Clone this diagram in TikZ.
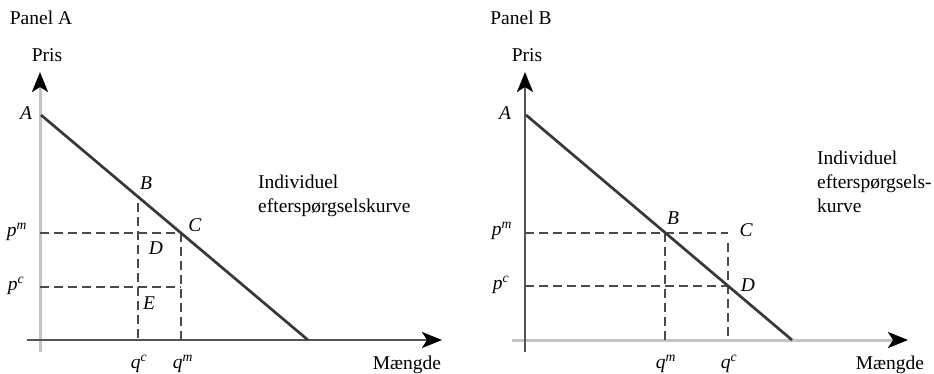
\documentclass[tikz,border=0pt]{standalone}
\usepackage{fontspec}
\setmainfont{Liberation Serif}
\usetikzlibrary{arrows.meta}
\definecolor{axislight}{HTML}{C4C4C4}
\definecolor{axisdark}{HTML}{555555}
\definecolor{curvegray}{HTML}{383838}
\definecolor{guidegray}{HTML}{4A4A4A}

\begin{document}
\begin{tikzpicture}[x=1pt, y=-1pt,
        every node/.style={font=\fontsize{19.5}{24}\selectfont, inner sep=0pt},
        axislo/.style={draw=axislight, line width=3pt,
            -{Stealth[black, length=20pt, width=16pt, inset=5pt]}},
        axishi/.style={draw=axisdark, line width=2.6pt,
            -{Stealth[black, length=20pt, width=16pt, inset=5pt]}},
        demand/.style={draw=curvegray, line width=2.7pt},
        guide/.style={draw=guidegray, line width=2pt, dash pattern=on 9pt off 5pt},
        pt/.style={font=\fontsize{19.5}{24}\selectfont\itshape}]
    \useasboundingbox (0,0) rectangle (934,373);

    % Panel A
    \coordinate (a-ybot) at (40,352);
    \coordinate (a-ytop) at (40,72);
    \coordinate (a-xleft) at (27,340);
    \coordinate (a-xright) at (442,340);
    \coordinate (a-top) at (41,115);
    \coordinate (a-end) at (308,340);
    \coordinate (a-C) at (181,233);
    \coordinate (a-pm) at (40,233);
    \coordinate (a-pc) at (40,287);
    \coordinate (a-Cc) at (181,287);
    \coordinate (a-Btop) at (138,203);
    \coordinate (a-qc) at (138,340);
    \coordinate (a-qm) at (181,340);

    \draw[axislo] (a-ybot) -- (a-ytop);
    \draw[axishi] (a-xleft) -- (a-xright);
    \draw[guide] (a-pm) -- (a-C);
    \draw[guide] (a-pc) -- (a-Cc);
    \draw[guide] (a-Btop) -- (a-qc);
    \draw[guide] (a-C) -- (a-qm);
    \draw[demand] (a-top) -- (a-end);

    \node (a-title) at (41,18) {Panel A};
    \node (a-pris) at (47,55) {Pris};
    \node (a-mgd) at (407,365) {Mængde};
    \node[pt] (a-lA) at (26,113) {A};
    \node[pt] (a-lB) at (146,183) {B};
    \node[pt] (a-lC) at (195,225) {C};
    \node[pt] (a-lD) at (156,248) {D};
    \node[pt] (a-lE) at (149,303) {E};
    \node[pt] (a-lpm) at (17,232) {p\textsuperscript{m}};
    \node[pt] (a-lpc) at (16,286) {p\textsuperscript{c}};
    \node[pt] (a-lqc) at (139,364) {q\textsuperscript{c}};
    \node[pt] (a-lqm) at (183,364) {q\textsuperscript{m}};
    \node[anchor=base west, align=left] (a-txt) at (258,212)
        {Individuel\\efterspørgselskurve};

    % Panel B
    \coordinate (b-ybot) at (525,352);
    \coordinate (b-ytop) at (525,72);
    \coordinate (b-xleft) at (512,340);
    \coordinate (b-xright) at (908,340);
    \coordinate (b-top) at (526,115);
    \coordinate (b-end) at (792,340);
    \coordinate (b-B) at (665,232.5);
    \coordinate (b-C) at (728,232.5);
    \coordinate (b-D) at (728,286);
    \coordinate (b-pm) at (525,232.5);
    \coordinate (b-pc) at (525,286);
    \coordinate (b-Cbot) at (728,243);
    \coordinate (b-qm) at (665,340);
    \coordinate (b-qc) at (728,340);

    \draw[axislo] (b-xleft) -- (b-xright);
    \draw[axishi] (b-ybot) -- (b-ytop);
    \draw[guide] (b-pm) -- (b-C);
    \draw[guide] (b-pc) -- (b-D);
    \draw[guide] (b-B) -- (b-qm);
    \draw[guide] (b-Cbot) -- (b-qc);
    \draw[demand] (b-top) -- (b-end);

    \node (b-title) at (521,18) {Panel B};
    \node (b-pris) at (527,55) {Pris};
    \node (b-mgd) at (890,365) {Mængde};
    \node[pt] (b-lA) at (505,113) {A};
    \node[pt] (b-lB) at (673,218) {B};
    \node[pt] (b-lC) at (746,230) {C};
    \node[pt] (b-lD) at (748,285) {D};
    \node[pt] (b-lpm) at (502,231) {p\textsuperscript{m}};
    \node[pt] (b-lpc) at (501,285) {p\textsuperscript{c}};
    \node[pt] (b-lqm) at (666,364) {q\textsuperscript{m}};
    \node[pt] (b-lqc) at (729,364) {q\textsuperscript{c}};
    \node[anchor=base west, align=left] (b-txt) at (817,212)
        {Individuel\\efterspørgsels-\\kurve};
\end{tikzpicture}
\end{document}
